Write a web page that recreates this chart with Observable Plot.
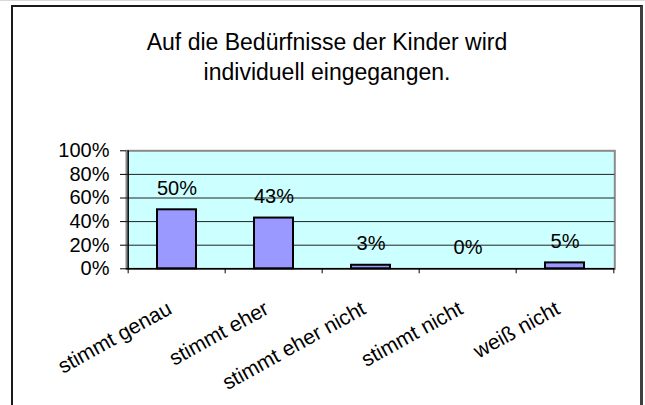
<!DOCTYPE html>
<html>
<head>
<meta charset="utf-8">
<script src="https://cdn.jsdelivr.net/npm/d3@7"></script>
<script src="https://cdn.jsdelivr.net/npm/@observablehq/plot@0.6"></script>
<style>
  html, body { margin: 0; padding: 0; background: #fff; width: 645px; height: 405px; overflow: hidden; }
  body { position: relative; font-family: "Liberation Sans", Arial, sans-serif; border-top: 1px solid #d8d8d8; box-sizing: border-box; }
  #box { position: absolute; left: 11px; top: 4px; width: 627px; height: 420px; border: 2px solid #1a1a1a; border-right: 3px solid #404040; }
  #title { position: absolute; left: 12px; top: 26px; width: 630px; text-align: center; font-size: 23px; line-height: 30px; color: #000; }
  #chart { position: absolute; left: 0; top: 119px; }
</style>
</head>
<body>
<div id="box"></div>
<div id="title">Auf die Bedürfnisse der Kinder wird<br>individuell eingegangen.</div>
<div id="chart"></div>
<script>
const categories = ["stimmt genau", "stimmt eher", "stimmt eher nicht", "stimmt nicht", "weiß nicht"];
const values = [50, 43, 3, 0, 5];
const valueLabels = ["50%", "43%", "3%", "0%", "5%"];
const yTicks = [0, 20, 40, 60, 80, 100];
const gridTicks = [20, 40, 60, 80];

const data = categories.map((c, i) => ({category: c, value: values[i], label: valueLabels[i]}));

const W = 645, H = 286;
const mL = 126, mR = 30.7, mT = 30.3, mB = 137.7;
const step = (W - mL - mR) / categories.length;
const font = "'Liberation Sans', Arial, sans-serif";

const chart = Plot.plot({
  width: W,
  height: H,
  marginLeft: mL,
  marginRight: mR,
  marginTop: mT,
  marginBottom: mB,
  style: {fontFamily: font, background: "transparent", color: "#000"},
  x: {domain: categories, paddingInner: 0.6, paddingOuter: 0.3, axis: null, label: null},
  y: {domain: [0, 100], axis: null, label: null},
  marks: [
    Plot.frame({fill: "#CCFFFF", stroke: "#8a8a8a", strokeWidth: 2}),
    Plot.ruleY(gridTicks, {stroke: "#222", strokeWidth: 1}),
    Plot.barY(data, {x: "category", y: "value", fill: "#9999FF", stroke: "#000", strokeWidth: 2}),
    Plot.ruleY([0], {stroke: "#000", strokeWidth: 1.5}),
    Plot.ruleX([categories[0]], {stroke: "#000", strokeWidth: 1.5, dx: -step / 2}),
    Plot.axisY(yTicks, {tickSize: 6, tickPadding: 11, tickFormat: d => d + "%", fontSize: 20, stroke: "#000", label: null}),
    Plot.axisX(categories, {tickSize: 5, text: null, dx: -step / 2, stroke: "#000", label: null}),
    Plot.axisX([categories[categories.length - 1]], {tickSize: 5, text: null, dx: step / 2, stroke: "#000", label: null}),
    Plot.text(data, {x: "category", y: "value", text: "label", dy: -15, lineAnchor: "bottom", fontSize: 20, fill: "#000"}),
    Plot.text(data, {x: "category", text: "category", frameAnchor: "bottom", rotate: -29, textAnchor: "end", lineAnchor: "top", dx: -11, dy: 31, fontSize: 21, fill: "#000"})
  ]
});
document.getElementById("chart").appendChild(chart);
</script>
</body>
</html>
